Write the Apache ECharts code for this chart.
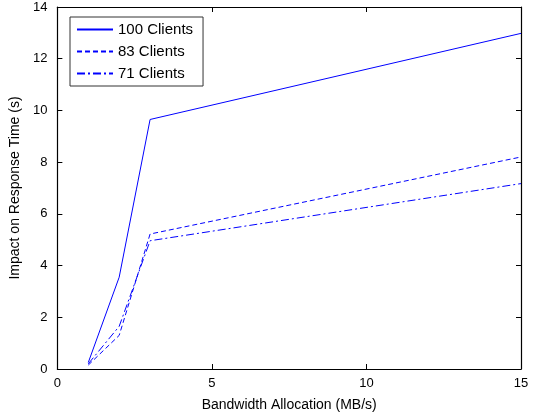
<!DOCTYPE html>
<html>
<head>
<meta charset="utf-8">
<script src="https://cdn.jsdelivr.net/npm/echarts@6/dist/echarts.min.js"></script>
<style>
  html, body { margin: 0; padding: 0; background: #fff; }
  #chart { width: 536px; height: 417px; }
</style>
</head>
<body>
<div id="chart"></div>
<script>
// bandwidth allocation (MB/s)
const bandwidth = [1, 2, 3, 15];
// impact on response time (s)
const clients100 = [0.25, 3.55, 9.65, 12.98];
const clients83 = [0.15, 1.3, 5.22, 8.2];
const clients71 = [0.2, 1.65, 4.96, 7.17];

const seriesNames = ['100 Clients', '83 Clients', '71 Clients'];
const dashTypes = ['solid', [5, 3], [8, 3, 2, 3]];

const font = 'Liberation Sans, Arial, Helvetica, sans-serif';
const chart = echarts.init(document.getElementById('chart'));

const pair = (ys) => bandwidth.map((x, i) => [x, ys[i]]);
const allData = [clients100, clients83, clients71];

const tickStyle = { show: true, inside: true, length: 5, lineStyle: { color: '#000' } };
const lineStyle = { show: true, onZero: false, lineStyle: { color: '#000', width: 1.2 } };

const option = {
  animation: false,
  grid: { left: 52, right: 15, top: 7, bottom: 40, containLabel: false },
  legend: {
    orient: 'vertical',
    left: 70,
    top: 17,
    data: seriesNames,
    itemWidth: 36,
    itemHeight: 14,
    itemGap: 7,
    padding: [5, 10, 5, 6],
    borderColor: '#333',
    borderWidth: 1,
    backgroundColor: '#fff',
    itemStyle: { color: 'rgba(0,0,0,0)', borderWidth: 0 },
    textStyle: { fontFamily: font, fontSize: 15, color: '#000' }
  },
  xAxis: [
    {
      type: 'value', min: 0, max: 15, interval: 5,
      name: 'Bandwidth Allocation (MB/s)', nameLocation: 'middle', nameGap: 29,
      nameTextStyle: { fontFamily: font, fontSize: 14, color: '#000' },
      axisLine: lineStyle, axisTick: tickStyle, splitLine: { show: false },
      axisLabel: { fontFamily: font, fontSize: 13, color: '#000', margin: 8 }
    },
    {
      type: 'value', position: 'top', min: 0, max: 15, interval: 5,
      axisLine: lineStyle, axisTick: tickStyle, splitLine: { show: false },
      axisLabel: { show: false }
    }
  ],
  yAxis: [
    {
      type: 'value', min: 0, max: 14, interval: 2,
      name: 'Impact on Response Time (s)', nameLocation: 'middle', nameGap: 30,
      nameTextStyle: { fontFamily: font, fontSize: 14, color: '#000' },
      axisLine: lineStyle, axisTick: tickStyle, splitLine: { show: false },
      axisLabel: { fontFamily: font, fontSize: 13, color: '#000', margin: 10 }
    },
    {
      type: 'value', position: 'right', min: 0, max: 14, interval: 2,
      axisLine: lineStyle, axisTick: tickStyle, splitLine: { show: false },
      axisLabel: { show: false }
    }
  ],
  series: seriesNames.map((name, i) => ({
    name,
    type: 'line',
    data: pair(allData[i]),
    symbol: 'none',
    itemStyle: { color: '#0000ff' },
    lineStyle: { color: '#0000ff', width: 1, type: dashTypes[i] }
  }))
};

chart.setOption(option);
</script>
</body>
</html>
